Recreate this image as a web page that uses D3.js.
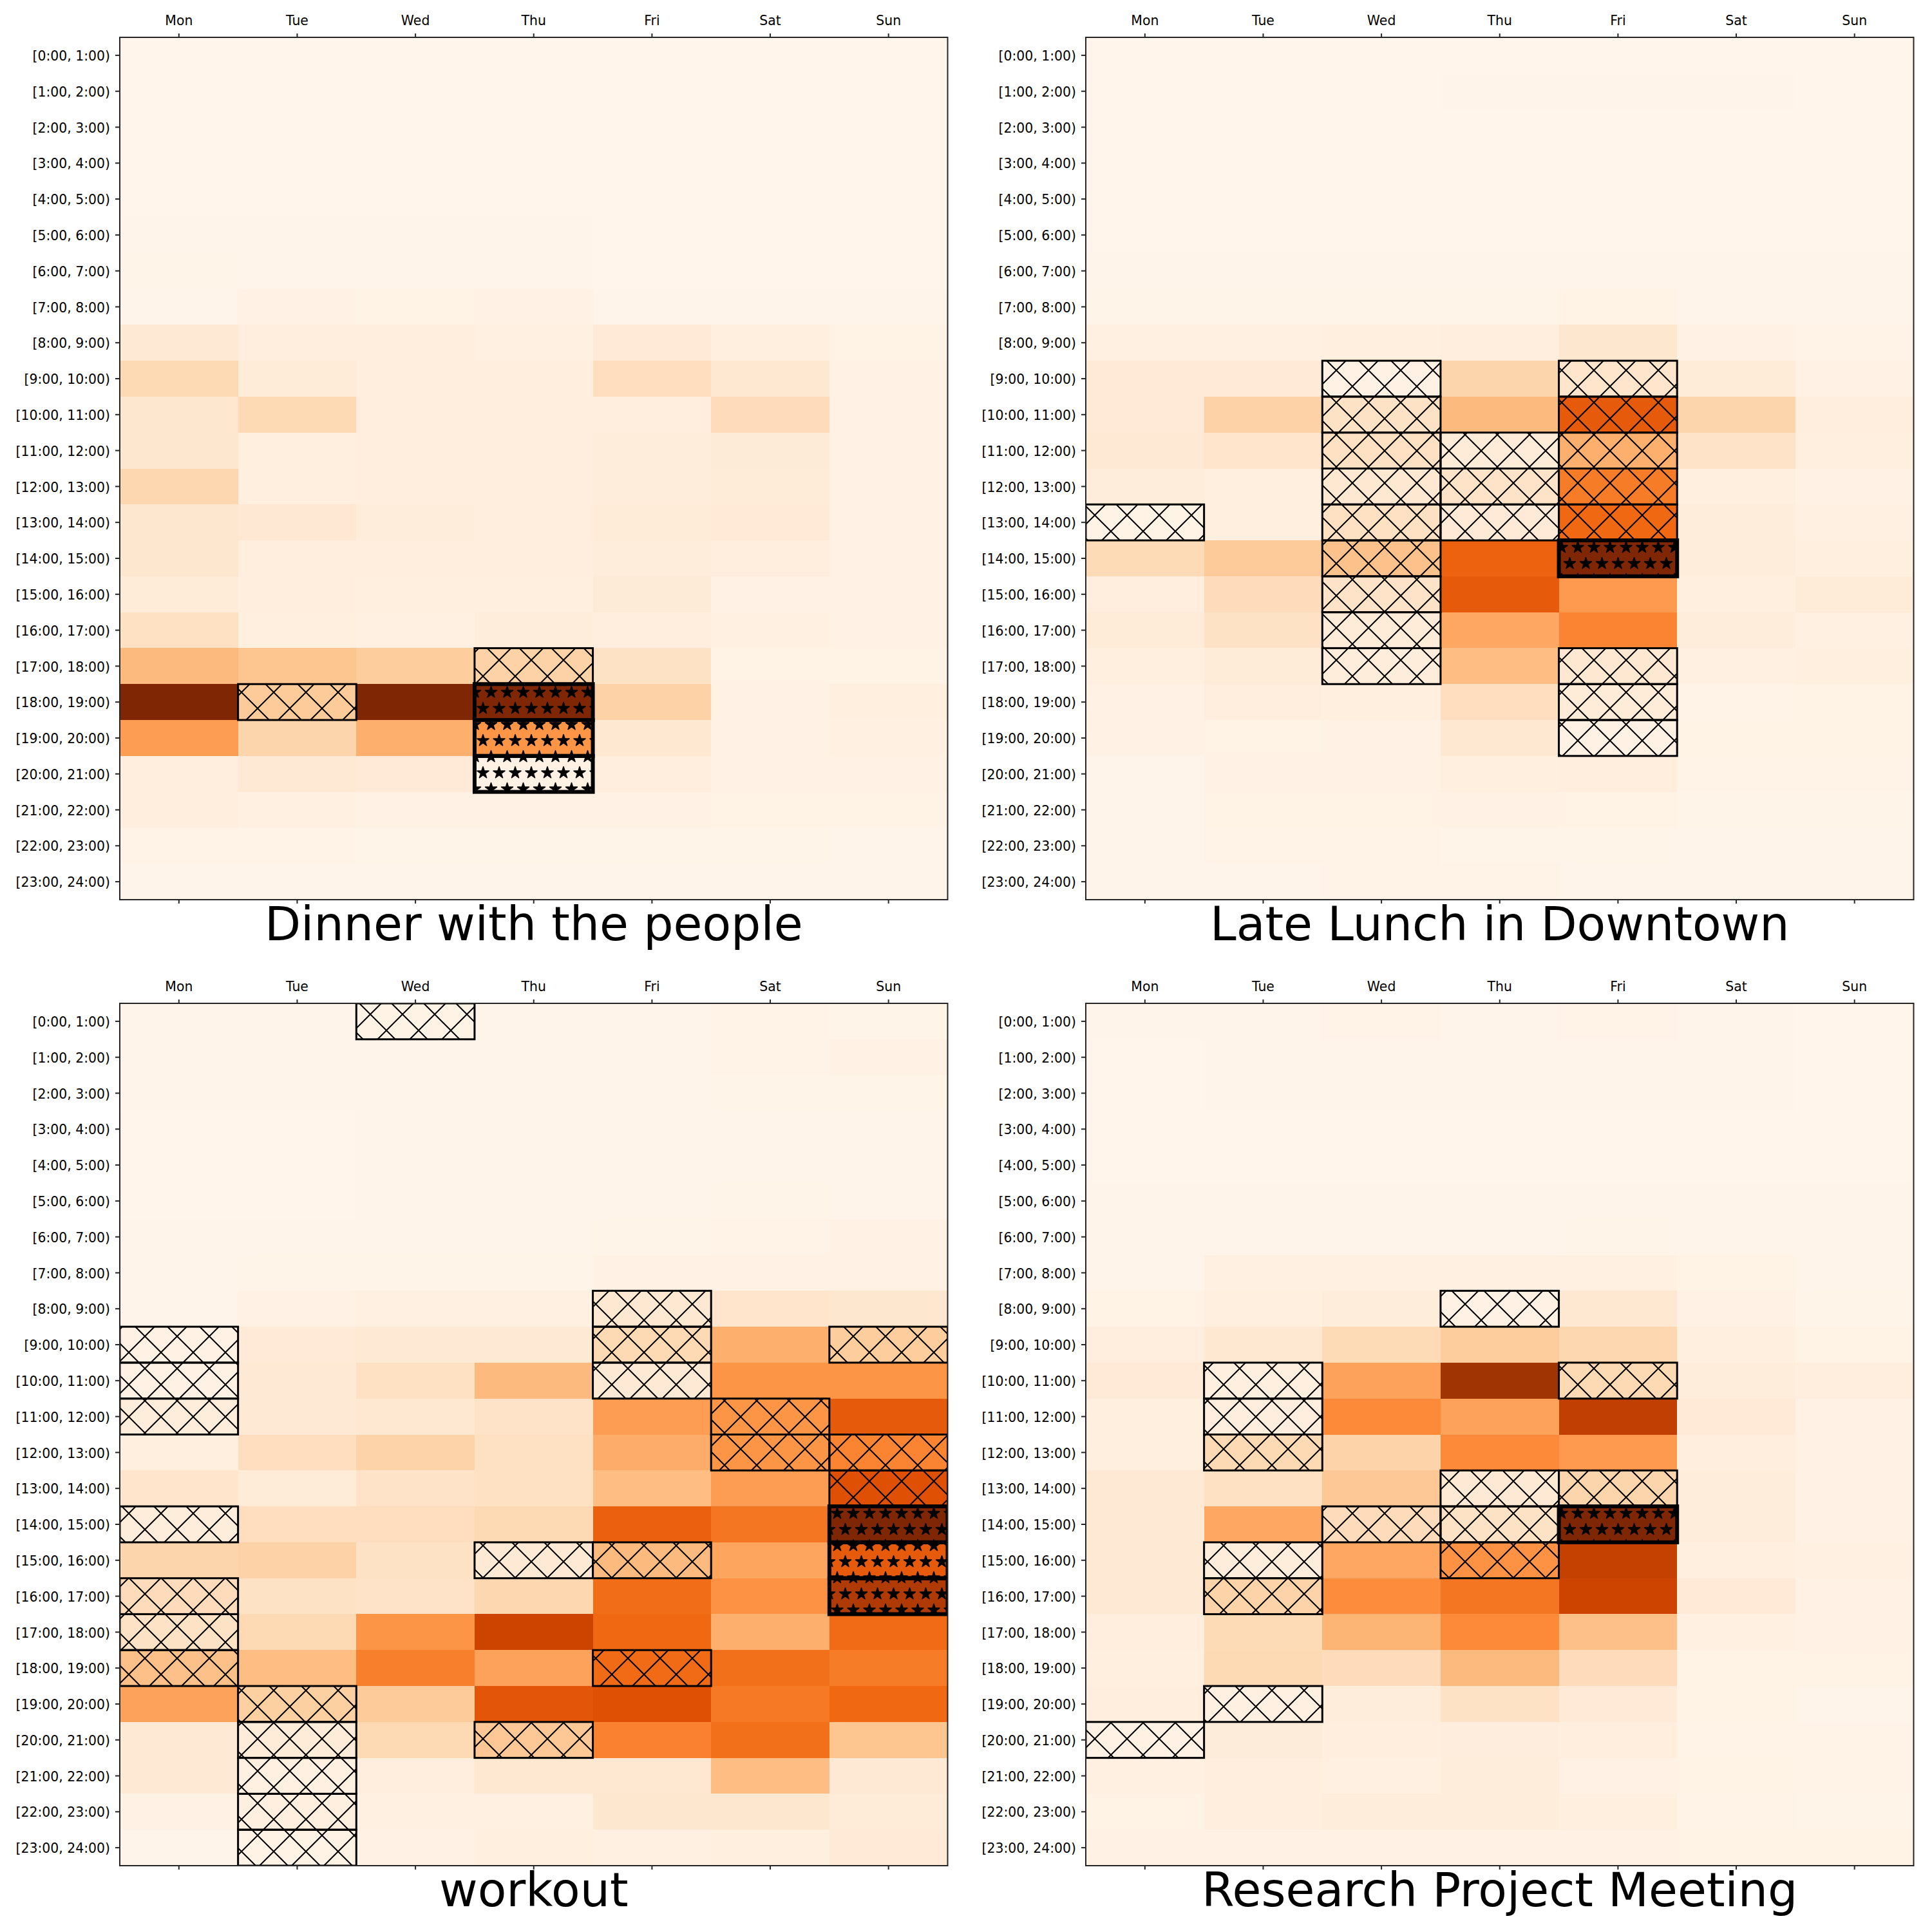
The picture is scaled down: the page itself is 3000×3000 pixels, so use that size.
<!DOCTYPE html>
<html>
<head>
<meta charset="utf-8">
<script src="https://cdn.jsdelivr.net/npm/d3@7"></script>
<style>
  html, body { margin: 0; padding: 0; background: #fff; }
  svg { display: block; font-family: "DejaVu Sans", sans-serif; }
</style>
</head>
<body>
<svg id="chart" width="3000" height="3000"></svg>
<script>
const days = ["Mon", "Tue", "Wed", "Thu", "Fri", "Sat", "Sun"];
const hours = d3.range(24).map((h) => `[${h}:00, ${h + 1}:00)`);
const oranges = ["#fff5eb", "#fee6ce", "#fdd0a2", "#fdae6b", "#fd8d3c", "#f16913", "#d94801", "#a63603", "#7f2704"];

// one row per hour, Mon..Sun (share of the panel's peak on the colour ramp)
const dinner = [
  [.003, .003, .003, .003, .003, .003, .003],
  [.003, .003, .003, .003, .003, .003, .003],
  [.003, .003, .003, .003, .003, .003, .003],
  [.003, .003, .003, .003, .003, .003, .003],
  [.003, .003, .003, .003, .003, .003, .003],
  [.005, .005, .005, .005, .003, .003, .003],
  [.012, .008, .008, .008, .004, .003, .003],
  [.01, .025, .02, .03, .01, .01, .008],
  [.1, .06, .06, .04, .09, .05, .02],
  [.2, .08, .06, .06, .17, .11, .03],
  [.12, .2, .06, .06, .06, .18, .03],
  [.12, .05, .055, .055, .07, .085, .03],
  [.21, .05, .06, .06, .07, .08, .03],
  [.12, .105, .07, .06, .08, .09, .035],
  [.12, .06, .055, .055, .07, .055, .03],
  [.08, .055, .05, .05, .085, .025, .025],
  [.16, .05, .045, .07, .055, .045, .025],
  [.33, .29, .26, .24, .15, .02, .02],
  [1, .27, 1, 1, .24, .035, .05],
  [.44, .22, .37, .47, .11, .035, .04],
  [.06, .1, .09, .03, .06, .03, .025],
  [.06, .045, .03, .03, .025, .02, .02],
  [.018, .015, .012, .012, .012, .012, .01],
  [.005, .005, .005, .005, .005, .005, .005],
];
const lateLunch = [
  [.003, .003, .003, .003, .003, .003, .003],
  [.003, .003, .003, .006, .006, .006, .003],
  [.003, .003, .003, .004, .004, .004, .003],
  [.003, .003, .003, .003, .003, .003, .003],
  [.003, .003, .003, .003, .003, .003, .003],
  [.003, .003, .003, .003, .003, .003, .003],
  [.005, .008, .008, .01, .01, .005, .005],
  [.012, .012, .012, .012, .02, .005, .005],
  [.04, .04, .05, .06, .12, .035, .015],
  [.09, .09, .03, .22, .13, .08, .03],
  [.09, .24, .15, .33, .68, .22, .06],
  [.1, .13, .16, .08, .37, .14, .05],
  [.07, .05, .11, .14, .56, .05, .03],
  [.02, .05, .16, .09, .63, .07, .04],
  [.19, .27, .3, .65, 1, .07, .05],
  [.06, .18, .14, .68, .45, .05, .08],
  [.08, .15, .08, .4, .53, .07, .045],
  [.05, .08, .07, .32, .11, .045, .05],
  [.03, .055, .05, .17, .08, .015, .02],
  [.03, .02, .025, .11, .03, .02, .02],
  [.01, .035, .035, .05, .055, .015, .015],
  [.008, .02, .02, .035, .02, .012, .012],
  [.01, .015, .015, .012, .012, .01, .01],
  [.01, .01, .015, .015, .01, .008, .008],
];
const workout = [
  [.01, .008, .02, .005, .005, .015, .012],
  [.005, .005, .005, .005, .01, .015, .025],
  [.005, .005, .005, .01, .008, .012, .012],
  [.003, .003, .005, .005, .005, .005, .005],
  [.003, .003, .005, .005, .005, .008, .005],
  [.003, .003, .005, .005, .008, .012, .008],
  [.005, .005, .005, .008, .012, .015, .025],
  [.005, .012, .012, .012, .03, .035, .035],
  [.01, .035, .045, .04, .11, .13, .12],
  [.025, .09, .1, .1, .2, .37, .26],
  [.025, .1, .16, .33, .1, .47, .47],
  [.07, .1, .11, .14, .44, .47, .68],
  [.05, .17, .23, .16, .38, .47, .53],
  [.13, .08, .14, .16, .32, .44, .72],
  [.07, .17, .17, .2, .66, .58, 1],
  [.22, .24, .15, .1, .33, .41, .68],
  [.18, .15, .14, .21, .61, .48, .85],
  [.15, .2, .47, .78, .63, .37, .62],
  [.31, .32, .55, .42, .62, .6, .56],
  [.42, .25, .27, .7, .72, .57, .63],
  [.1, .08, .2, .28, .54, .6, .29],
  [.1, .04, .06, .11, .11, .32, .1],
  [.03, .05, .04, .045, .12, .12, .08],
  [.01, .02, .03, .05, .04, .05, .09],
];
const research = [
  [.005, .005, .015, .01, .015, .005, .003],
  [.003, .005, .005, .005, .008, .005, .003],
  [.003, .005, .005, .005, .005, .005, .003],
  [.003, .003, .003, .003, .003, .003, .003],
  [.003, .003, .003, .003, .003, .003, .003],
  [.005, .005, .005, .005, .005, .005, .005],
  [.005, .008, .01, .01, .012, .008, .005],
  [.005, .04, .04, .04, .045, .02, .008],
  [.02, .05, .07, .03, .11, .025, .012],
  [.06, .11, .19, .26, .21, .05, .02],
  [.09, .05, .42, .89, .2, .07, .06],
  [.05, .06, .51, .42, .81, .09, .03],
  [.05, .2, .23, .51, .45, .06, .03],
  [.1, .16, .28, .1, .22, .07, .03],
  [.1, .4, .18, .15, 1, .07, .03],
  [.1, .07, .4, .48, .8, .05, .04],
  [.1, .23, .5, .58, .78, .09, .03],
  [.055, .19, .35, .51, .31, .04, .03],
  [.05, .2, .18, .33, .18, .02, .02],
  [.055, .04, .07, .15, .09, .02, .01],
  [.035, .075, .06, .065, .06, .015, .015],
  [.045, .06, .045, .07, .035, .02, .015],
  [.02, .055, .07, .07, .05, .015, .012],
  [.03, .03, .03, .03, .03, .02, .02],
];

// [day index, hour] of the marked cells
const dinnerHatched = [[3, 17], [1, 18]];
const dinnerStarred = [[3, 18], [3, 19], [3, 20]];
const lateLunchHatched = [
  [2, 9], [2, 10], [2, 11], [2, 12], [2, 13], [2, 14], [2, 15], [2, 16], [2, 17],
  [3, 11], [3, 12], [3, 13], [0, 13],
  [4, 9], [4, 10], [4, 11], [4, 12], [4, 13], [4, 17], [4, 18], [4, 19],
];
const lateLunchStarred = [[4, 14]];
const workoutHatched = [
  [2, 0], [0, 9], [0, 10], [0, 11], [0, 14], [0, 16], [0, 17], [0, 18],
  [1, 19], [1, 20], [1, 21], [1, 22], [1, 23],
  [3, 15], [3, 20], [4, 8], [4, 9], [4, 10], [4, 15], [4, 18],
  [5, 11], [5, 12], [6, 9], [6, 12], [6, 13],
];
const workoutStarred = [[6, 14], [6, 15], [6, 16]];
const researchHatched = [
  [3, 8], [1, 10], [1, 11], [1, 12], [4, 10], [3, 13], [4, 13],
  [2, 14], [3, 14], [1, 15], [3, 15], [1, 16], [1, 19], [0, 20],
];
const researchStarred = [[4, 14]];

const panels = [
  { title: "Dinner with the people", values: dinner, hatched: dinnerHatched, starred: dinnerStarred, left: 186, top: 58 },
  { title: "Late Lunch in Downtown", values: lateLunch, hatched: lateLunchHatched, starred: lateLunchStarred, left: 1686, top: 58 },
  { title: "workout", values: workout, hatched: workoutHatched, starred: workoutStarred, left: 186, top: 1558 },
  { title: "Research Project Meeting", values: research, hatched: researchHatched, starred: researchStarred, left: 1686, top: 1558 },
];

const plotWidth = 1285.5;
const plotHeight = 1339;
const inkColor = "#262626";

const color = d3
  .scaleLinear()
  .domain(oranges.map((_, i) => i / (oranges.length - 1)))
  .range(oranges)
  .clamp(true);

const svg = d3.select("#chart");
const defs = svg.append("defs");

const hatch = defs
  .append("pattern")
  .attr("id", "hatch-x")
  .attr("patternUnits", "userSpaceOnUse")
  .attr("width", 50)
  .attr("height", 50);
hatch
  .append("path")
  .attr("d", "M-5,-5L55,55M-5,55L55,-5M-5,5L5,-5M45,55L55,45M-5,45L5,55M45,-5L55,5")
  .attr("stroke", "#000")
  .attr("stroke-width", 2)
  .attr("fill", "none");

const stars = defs
  .append("pattern")
  .attr("id", "hatch-star")
  .attr("patternUnits", "userSpaceOnUse")
  .attr("width", 25)
  .attr("height", 50);
const starShape = d3.symbol().type(d3.symbolStar).size(101)();
[[0, 0], [25, 0], [0, 50], [25, 50], [12.5, 25]].forEach(([cx, cy]) => {
  stars
    .append("path")
    .attr("d", starShape)
    .attr("transform", `translate(${cx},${cy})`)
    .attr("fill", "#000")
    .attr("stroke", "#000")
    .attr("stroke-width", 1.5)
    .attr("stroke-linejoin", "round");
});

panels.forEach((panel, index) => {
  const x = d3.scaleBand().domain(days).range([panel.left, panel.left + plotWidth]);
  const y = d3.scaleBand().domain(hours).range([panel.top, panel.top + plotHeight]);
  const g = svg.append("g");

  const clipId = `plot-clip-${index}`;
  defs
    .append("clipPath")
    .attr("id", clipId)
    .append("rect")
    .attr("x", panel.left)
    .attr("y", panel.top)
    .attr("width", plotWidth)
    .attr("height", plotHeight);

  // Heat cells
  g.append("g")
    .attr("shape-rendering", "crispEdges")
    .selectAll("g")
    .data(panel.values)
    .join("g")
    .selectAll("rect")
    .data((row, h) => row.map((value, d) => ({ value, d, h })))
    .join("rect")
    .attr("x", (c) => x(days[c.d]))
    .attr("y", (c) => y(hours[c.h]))
    .attr("width", x.bandwidth() + 0.5)
    .attr("height", y.bandwidth() + 0.5)
    .attr("fill", (c) => color(c.value));

  // Marked cells: hatched first so the heavy star boxes sit on top
  const marks = g.append("g").attr("clip-path", `url(#${clipId})`);
  const drawMarks = (cells, patternId, strokeWidth) => {
    marks
      .append("g")
      .selectAll("rect")
      .data(cells)
      .join("rect")
      .attr("x", ([d]) => x(days[d]))
      .attr("y", ([, h]) => y(hours[h]))
      .attr("width", x.bandwidth())
      .attr("height", y.bandwidth())
      .attr("fill", `url(#${patternId})`)
      .attr("stroke", "#000")
      .attr("stroke-width", strokeWidth);
  };
  drawMarks(panel.hatched, "hatch-x", 3);
  drawMarks(panel.starred, "hatch-star", 6);

  // Frame
  g.append("rect")
    .attr("x", panel.left)
    .attr("y", panel.top)
    .attr("width", plotWidth)
    .attr("height", plotHeight)
    .attr("fill", "none")
    .attr("stroke", inkColor)
    .attr("stroke-width", 2);

  const styleAxis = (axisGroup) => {
    axisGroup.select(".domain").remove();
    axisGroup.selectAll(".tick line").attr("stroke", inkColor).attr("stroke-width", 2);
    axisGroup
      .selectAll(".tick text")
      .attr("fill", "#000")
      .attr("font-size", 20.4)
      .attr("font-family", '"DejaVu Sans", sans-serif');
  };

  g.append("g")
    .attr("transform", `translate(0,${panel.top})`)
    .call(d3.axisTop(x).tickSize(6).tickPadding(13))
    .call(styleAxis);
  g.append("g")
    .attr("transform", `translate(0,${panel.top + plotHeight})`)
    .call(d3.axisBottom(x).tickSize(6).tickFormat(""))
    .call(styleAxis);
  g.append("g")
    .attr("transform", `translate(${panel.left},0)`)
    .call(d3.axisLeft(y).tickSize(7).tickPadding(8))
    .call(styleAxis)
    .call((axisGroup) => axisGroup.selectAll(".tick text").attr("dy", "0.4em"));

  g.append("text")
    .attr("x", panel.left + plotWidth / 2)
    .attr("y", panel.top + 1402)
    .attr("text-anchor", "middle")
    .attr("font-size", 73)
    .attr("fill", "#000")
    .text(panel.title);
});
</script>
</body>
</html>
